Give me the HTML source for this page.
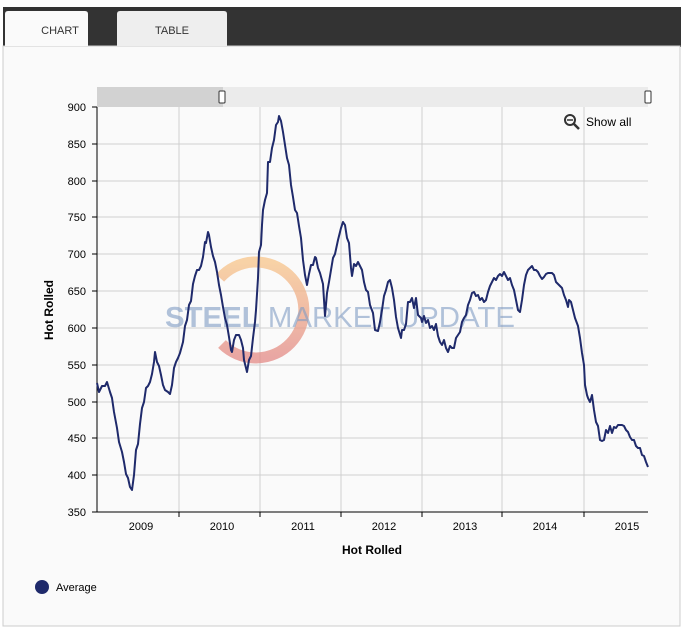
<!DOCTYPE html>
<html><head><style>
body{margin:0;background:#fff;width:684px;height:628px;overflow:hidden;font-family:"Liberation Sans",sans-serif}
</style></head><body>
<svg width="684" height="628" xmlns="http://www.w3.org/2000/svg" font-family="Liberation Sans, sans-serif">
<defs><linearGradient id="g" x1="0" y1="0" x2="0" y2="1"><stop offset="0" stop-color="#f7c58a"/><stop offset="1" stop-color="#e38a86"/></linearGradient></defs>
<rect x="3" y="7" width="678" height="40" fill="#333"/>
<rect x="3" y="46" width="677" height="580" fill="#fafafa" stroke="#ccc"/>
<path d="M5 46 V14 Q5 11 8 11 H85 Q88 11 88 14 V46 Z" fill="#fafafa"/>
<path d="M117 46 V14 Q117 11 120 11 H224 Q227 11 227 14 V46 Z" fill="#eee"/>
<text x="60" y="34" font-size="11" fill="#333" text-anchor="middle">CHART</text>
<text x="172" y="34" font-size="11" fill="#333" text-anchor="middle">TABLE</text>
<rect x="97" y="87" width="551" height="20" fill="#ebebeb"/>
<rect x="97" y="87" width="126" height="20" fill="#d2d2d2"/>
<rect x="219" y="91" width="6" height="12" rx="1" fill="#fff" stroke="#333"/>
<rect x="645" y="91" width="6" height="12" rx="1" fill="#fff" stroke="#333"/>
<g stroke="#d0d0d0" stroke-width="1">
<line x1="97" x2="648" y1="144" y2="144"/><line x1="97" x2="648" y1="181" y2="181"/><line x1="97" x2="648" y1="217" y2="217"/><line x1="97" x2="648" y1="254" y2="254"/><line x1="97" x2="648" y1="291" y2="291"/><line x1="97" x2="648" y1="328" y2="328"/><line x1="97" x2="648" y1="365" y2="365"/><line x1="97" x2="648" y1="402" y2="402"/><line x1="97" x2="648" y1="438" y2="438"/><line x1="97" x2="648" y1="475" y2="475"/>
<line x1="179" x2="179" y1="107" y2="512"/><line x1="260" x2="260" y1="107" y2="512"/><line x1="341" x2="341" y1="107" y2="512"/><line x1="422" x2="422" y1="107" y2="512"/><line x1="502" x2="502" y1="107" y2="512"/><line x1="584" x2="584" y1="107" y2="512"/>
</g>
<path d="M220 278 A48 48 0 1 1 222 344" fill="none" stroke="url(#g)" stroke-width="11" opacity="0.75"/>
<text x="165" y="327" font-size="29" fill="#7f9cc4" opacity="0.6" textLength="350" lengthAdjust="spacingAndGlyphs"><tspan font-weight="bold">STEEL</tspan> MARKET UPDATE</text>
<g stroke="#000" stroke-width="1">
<line x1="97" x2="97" y1="107" y2="512"/><line x1="97" x2="648" y1="512" y2="512"/>
<line x1="92" x2="97" y1="107" y2="107"/><line x1="92" x2="97" y1="144" y2="144"/><line x1="92" x2="97" y1="181" y2="181"/><line x1="92" x2="97" y1="217" y2="217"/><line x1="92" x2="97" y1="254" y2="254"/><line x1="92" x2="97" y1="291" y2="291"/><line x1="92" x2="97" y1="328" y2="328"/><line x1="92" x2="97" y1="365" y2="365"/><line x1="92" x2="97" y1="402" y2="402"/><line x1="92" x2="97" y1="438" y2="438"/><line x1="92" x2="97" y1="475" y2="475"/><line x1="92" x2="97" y1="512" y2="512"/>
<line x1="179" x2="179" y1="512" y2="517"/><line x1="260" x2="260" y1="512" y2="517"/><line x1="341" x2="341" y1="512" y2="517"/><line x1="422" x2="422" y1="512" y2="517"/><line x1="502" x2="502" y1="512" y2="517"/><line x1="584" x2="584" y1="512" y2="517"/>
</g>
<g font-size="11" fill="#000" text-anchor="end">
<text x="86" y="111">900</text><text x="86" y="148">850</text><text x="86" y="185">800</text><text x="86" y="221">750</text><text x="86" y="258">700</text><text x="86" y="295">650</text><text x="86" y="332">600</text><text x="86" y="369">550</text><text x="86" y="406">500</text><text x="86" y="442">450</text><text x="86" y="479">400</text><text x="86" y="516">350</text>
</g>
<g font-size="11" fill="#000" text-anchor="middle">
<text x="141" y="530">2009</text><text x="222" y="530">2010</text><text x="303" y="530">2011</text><text x="384" y="530">2012</text><text x="465" y="530">2013</text><text x="545" y="530">2014</text><text x="627" y="530">2015</text>
</g>
<text x="372" y="554" font-size="12" font-weight="bold" text-anchor="middle">Hot Rolled</text>
<text transform="translate(53,310) rotate(-90)" font-size="12" font-weight="bold" text-anchor="middle">Hot Rolled</text>
<circle cx="570" cy="120" r="5" fill="none" stroke="#333" stroke-width="2"/><line x1="567" y1="120" x2="573" y2="120" stroke="#333" stroke-width="1.5"/><line x1="574" y1="124" x2="579" y2="129" stroke="#333" stroke-width="2.5"/>
<text x="586" y="126" font-size="12" fill="#000">Show all</text>
<circle cx="42" cy="587" r="7" fill="#1f2a6b"/>
<text x="56" y="591" font-size="11" fill="#000">Average</text>
<polyline fill="none" stroke="#1f2a6b" stroke-width="2" stroke-linejoin="round" points="97,383 99,392 102,386 105,386 107,382 110,392 112,398 114,412 117,428 119,442 122,452 124,462 126,474 128,478 130,487 132,490 134,475 136,450 138,444 140,424 142,408 144,402 146,388 148,386 150,382 152,374 154,362 155,352 157,362 159,366 161,375 163,385 165,390 168,392 170,394 172,385 174,368 176,362 178,358 180,353 183,342 185,326 187,320 189,305 191,301 193,284 195,276 197,270 199,270 201,266 203,257 205,242 206,243 208,232 209,235 211,247 213,256 215,262 217,272 219,285 221,295 223,307 225,318 227,325 229,337 231,350 232,352 234,340 236,335 239,335 241,340 243,348 244,360 246,368 247,372 249,360 251,356 253,338 255,322 256,310 258,278 259,252 261,245 262,225 263,210 265,200 267,193 268,162 270,162 272,148 274,140 276,125 278,122 279,116 281,121 283,132 285,145 287,158 289,165 291,185 293,197 295,210 297,213 299,226 301,238 303,260 305,275 307,285 309,274 311,265 313,265 315,257 316,258 318,268 320,273 323,284 325,316 327,293 329,282 331,270 333,258 335,254 338,240 341,228 343,222 345,225 347,238 349,243 351,268 352,276 354,264 356,266 358,262 360,266 362,270 364,282 366,290 368,292 370,305 373,313 375,330 378,331 380,322 382,310 384,296 386,290 388,282 390,280 392,288 394,300 396,317 398,328 401,338 402,330 404,330 406,324 408,302 410,302 412,298 414,308 416,298 418,315 421,318 422,322 424,316 426,323 428,320 430,328 432,326 434,330 436,324 438,336 440,342 442,345 444,340 446,348 448,352 450,346 452,348 454,348 456,338 458,335 460,332 462,322 464,318 466,315 468,305 470,300 472,293 474,292 476,296 478,295 480,300 482,298 484,302 486,300 488,292 490,286 492,282 494,278 496,280 498,276 500,274 502,276 504,272 506,276 508,280 510,278 512,285 514,290 516,300 518,310 520,312 522,300 524,285 526,275 528,270 530,268 532,266 534,270 536,270 538,272 540,276 542,279 544,277 546,274 548,273 550,273 552,273 554,275 556,282 558,284 560,286 562,288 564,295 566,300 568,307 569,300 571,302 573,310 575,318 578,326 580,338 582,353 584,365 585,385 587,395 588,398 590,402 592,395 594,410 596,422 598,426 600,440 602,441 604,440 606,430 608,433 610,426 612,433 614,427 616,428 618,425 620,425 622,425 624,426 626,430 628,432 630,437 632,440 634,440 636,446 638,448 640,448 642,455 644,456 646,462 648,467"/>
</svg>
</body></html>
